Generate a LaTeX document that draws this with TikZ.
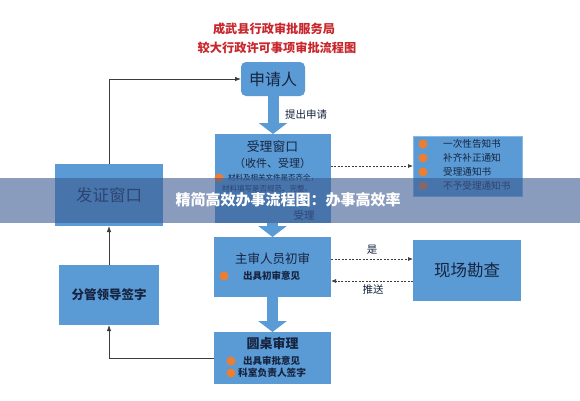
\documentclass[tikz,border=0pt]{standalone}
\usepackage{fontspec}
\setmainfont{Noto Sans CJK SC}
\usetikzlibrary{arrows.meta,calc}
\definecolor{boxblue}{RGB}{91,155,213}
\definecolor{txtnavy}{RGB}{22,36,64}
\definecolor{titlered}{RGB}{200,40,45}
\definecolor{bulletc}{RGB}{237,125,49}
\definecolor{bannerc}{RGB}{60,90,145}
\definecolor{linec}{RGB}{60,60,60}
\newcommand\fsz[1]{\fontsize{#1}{#1}\selectfont}
\begin{document}
\begin{tikzpicture}[x=1pt,y=-1pt,
  box/.style={fill=boxblue,inner sep=0pt,outer sep=0pt},
  txt/.style={text=txtnavy,inner sep=0pt},
  dot/.style={circle,fill=bulletc,minimum size=9pt,inner sep=0pt},
  bigarrow/.style={draw=boxblue,line width=11pt,-{Triangle[width=28pt,length=11pt]}},
  thinarrow/.style={draw=linec,line width=0.8pt,-{Latex[length=6pt,width=4.5pt]}},
  dasharrow/.style={draw=linec,line width=0.7pt,dash pattern=on 2pt off 1.5pt,-{Latex[length=5pt,width=4pt]}},
  title/.style={text=titlered,inner sep=0pt,font=\fsz{12.2}\bfseries}]
\fill[white] (0,0) rectangle (580,400);
\useasboundingbox (0,0) rectangle (580,400);

% title
\node[title] (t1) at (274,29) {成武县行政审批服务局};
\node[title] (t2) at (277,48) {较大行政许可事项审批流程图};

% boxes
\node[box,rounded corners=5pt,minimum width=64pt,minimum height=34pt] (shen) at (273,79) {};
\node[txt,font=\fsz{16}] (shenT) at (273,79) {申请人};

\node[box,minimum width=116pt,minimum height=89pt] (shouli) at (272.5,178.5) {};
\node[txt,font=\fsz{12.8}] (shouliT1) at (272.5,147) {受理窗口};
\node[txt,font=\fsz{11}] (shouliT2) at (272.5,163) {（收件、受理）};
\node[dot] (sd1) at (219,178) {};
\node[txt,font=\fsz{7.5},anchor=west] (shouliT3) at (228,178) {材料及相关文件是否齐全，};
\node[txt,font=\fsz{7.5},anchor=west] (shouliT4) at (222,189) {材料填写是否规范、完整。};
\node[txt,font=\fsz{10.5}] (shouliT5) at (304,215) {受理};

\node[box,draw=boxblue!70!white,line width=0.5pt,minimum width=109pt,minimum height=60pt] (notice) at (467.5,166) {};
\node[dot] (nd1) at (423,144) {};
\node[dot] (nd2) at (423,158) {};
\node[dot] (nd3) at (423,172) {};
\node[dot] (nd4) at (423,186) {};
\node[txt,font=\fsz{9.6},anchor=west] (n1) at (443,144) {一次性告知书};
\node[txt,font=\fsz{9.6},anchor=west] (n2) at (443,158) {补齐补正通知};
\node[txt,font=\fsz{9.6},anchor=west] (n3) at (443,172) {受理通知书};
\node[txt,font=\fsz{9.6},anchor=west] (n4) at (443,186) {不予受理通知书};

\node[box,minimum width=117pt,minimum height=60pt] (zhushen) at (272.5,267) {};
\node[txt,font=\fsz{12.5}] (zhushenT) at (272.5,259) {主审人员初审};
\node[dot] (zd1) at (224,276) {};
\node[txt,font=\fsz{9.5}\bfseries,anchor=west] (zhushenT2) at (243,276) {出具初审意见};

\node[box,minimum width=108pt,minimum height=61pt] (xianchang) at (467,270.5) {};
\node[txt,font=\fsz{16.5}] (xianchangT) at (467,270.5) {现场勘查};

\node[box,minimum width=117pt,minimum height=52pt] (yuanzhuo) at (272.5,358) {};
\node[txt,font=\fsz{13}\bfseries] (yuanzhuoT) at (272.5,343) {圆桌审理};
\node[dot] (yd1) at (231,361) {};
\node[dot] (yd2) at (231,373) {};
\node[txt,font=\fsz{9.5}\bfseries,anchor=west] (yuanzhuoT2) at (243,361) {出具审批意见};
\node[txt,font=\fsz{9.7}\bfseries,anchor=west] (yuanzhuoT3) at (238,373) {科室负责人签字};

\node[box,minimum width=100pt,minimum height=60pt] (fenguan) at (109,295) {};
\node[txt,font=\fsz{12.5}\bfseries] (fenguanT) at (109,295) {分管领导签字};

\node[box,minimum width=108pt,minimum height=62pt] (fazheng) at (109,195) {};
\node[txt,font=\fsz{16.5}] (fazhengT) at (109,195) {发证窗口};

% thick arrows
\draw[bigarrow] (shen.south) -- (shen.south |- shouli.north);
\node[txt,font=\fsz{10.5}] (lab1) at (306,115) {提出申请};
\draw[bigarrow] (shouli.south) -- (zhushen.north);
\draw[bigarrow] (zhushen.south) -- (yuanzhuo.north);

% dashed arrows
\coordinate (za) at ($(zhushen.east)+(0,-8)$);
\coordinate (zb) at ($(zhushen.east)+(0,14)$);
\draw[dasharrow] (notice.west -| shouli.east) -- (notice.west);
\draw[dasharrow] (za) -- (za -| xianchang.west);
\draw[dasharrow] (zb -| xianchang.west) -- (zb);
\node[txt,font=\fsz{10.5}] (lab2) at (372,250) {是};
\node[txt,font=\fsz{10.5}] (lab3) at (373,290) {推送};

% left loop
\draw[thinarrow] (yuanzhuo.west) -| (fenguan.south);
\draw[thinarrow] (fenguan.north) -- (fazheng.south);
\draw[thinarrow] (fazheng.north) |- (shen.west);

% banner overlay
\fill[bannerc,opacity=0.6] (0,178) rectangle (580,223);
\node[text=white,inner sep=0pt,font=\fsz{15}\bfseries] (banner) at (288,200) {精简高效办事流程图：办事高效率};
\end{tikzpicture}
\end{document}
